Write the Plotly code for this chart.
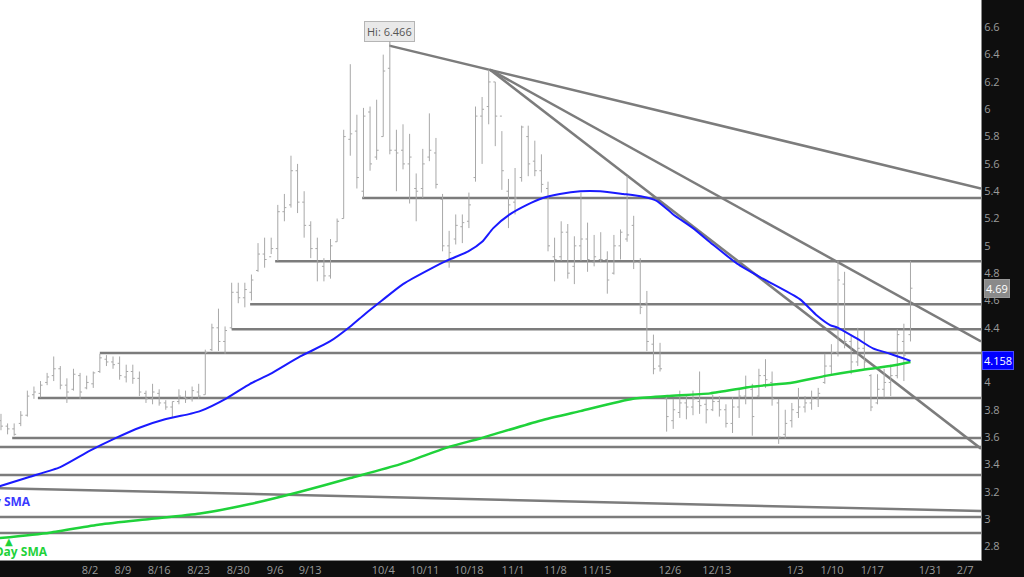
import plotly.graph_objects as go

# ---------------- data ----------------
bar_open = [3.72, 3.68, 3.66, 3.70, 3.76, 3.91, 3.92, 4.00, 4.05, 4.10,
            3.98, 3.95, 4.05, 3.96, 3.99, 4.08, 4.17, 4.15, 4.14, 4.04,
            4.08, 4.03, 3.92, 3.88, 3.92, 3.85, 3.82, 3.86, 3.89, 3.88,
            3.93, 3.91, 4.24, 4.40, 4.30, 4.40, 4.66, 4.62, 4.66, 4.82,
            4.94, 4.92, 4.98, 5.25, 5.30, 5.55, 5.32, 5.15, 4.98, 4.85,
            4.78, 5.03, 5.20, 5.78, 5.84, 5.40, 5.98, 5.65, 5.80, 6.30,
            5.70, 5.70, 5.60, 5.42, 5.42, 5.65, 5.68, 5.34, 5.00, 5.05,
            5.14, 5.18, 5.50, 5.95, 6.02, 6.20, 5.95, 5.40, 5.32, 5.50,
            5.80, 5.62, 5.55, 5.42, 4.92, 4.92, 5.10, 4.85, 5.00, 5.05,
            4.88, 4.90, 4.90, 4.80, 5.00, 5.05, 5.15, 4.88, 4.58, 4.28,
            4.12, 3.88, 3.72, 3.78, 3.85, 3.82, 3.86, 3.84, 3.80, 3.86,
            3.80, 3.70, 3.82, 3.90, 3.95, 3.90, 4.05, 4.00, 3.85, 3.62,
            3.72, 3.78, 3.82, 3.85, 3.88, 4.00, 4.12, 4.22, 4.72, 4.30,
            4.15, 4.25, 4.05, 3.85, 3.95, 4.00, 4.05, 4.30, 4.35]
bar_high = [3.77, 3.70, 3.70, 3.79, 3.94, 3.97, 4.01, 4.07, 4.19, 4.12,
            4.03, 4.10, 4.07, 4.05, 4.08, 4.21, 4.20, 4.19, 4.19, 4.13,
            4.13, 4.08, 3.94, 3.99, 3.95, 3.87, 3.86, 3.95, 3.94, 3.97,
            3.99, 4.24, 4.43, 4.54, 4.41, 4.73, 4.73, 4.73, 4.79, 5.02,
            5.06, 5.06, 5.30, 5.38, 5.66, 5.60, 5.40, 5.18, 5.06, 4.91,
            5.05, 5.20, 5.85, 6.33, 5.96, 6.01, 6.02, 6.07, 6.40, 6.466,
            5.85, 5.89, 5.82, 5.53, 5.71, 5.97, 5.79, 5.38, 5.11, 5.23,
            5.23, 5.39, 6.02, 6.09, 6.29, 6.20, 5.84, 5.49, 5.57, 5.88,
            5.88, 5.77, 5.67, 5.47, 5.06, 5.18, 5.16, 5.07, 5.39, 5.17,
            5.08, 5.10, 4.96, 5.08, 5.12, 5.51, 5.22, 4.91, 4.67, 4.35,
            4.29, 3.90, 3.88, 3.94, 3.90, 3.94, 4.08, 3.88, 3.91, 3.90,
            3.84, 3.89, 3.95, 4.05, 3.99, 4.10, 4.17, 4.08, 3.88, 3.80,
            3.85, 3.96, 3.90, 3.94, 3.96, 4.21, 4.28, 4.89, 4.81, 4.35,
            4.40, 4.38, 4.06, 4.06, 4.10, 4.13, 4.39, 4.43, 4.89]
bar_low = [3.65, 3.62, 3.61, 3.68, 3.75, 3.88, 3.89, 3.98, 4.01, 3.95,
           3.85, 3.94, 3.88, 3.95, 3.96, 4.07, 4.12, 4.10, 4.02, 4.00,
           3.99, 3.90, 3.85, 3.84, 3.83, 3.80, 3.74, 3.84, 3.85, 3.86,
           3.88, 3.91, 4.23, 4.23, 4.21, 4.39, 4.58, 4.55, 4.60, 4.81,
           4.84, 4.94, 4.89, 5.18, 5.28, 5.24, 5.06, 4.91, 4.74, 4.74,
           4.76, 5.03, 5.20, 5.66, 5.42, 5.35, 5.55, 5.63, 5.80, 5.67,
           5.40, 5.56, 5.31, 5.18, 5.35, 5.62, 5.42, 4.96, 4.84, 5.01,
           5.02, 5.13, 5.47, 5.60, 5.89, 5.73, 5.41, 5.13, 5.23, 5.47,
           5.51, 5.51, 5.39, 4.96, 4.74, 4.89, 4.76, 4.72, 4.89, 4.81,
           4.85, 4.88, 4.65, 4.79, 4.90, 5.03, 4.83, 4.50, 4.23, 4.06,
           4.08, 3.64, 3.66, 3.74, 3.73, 3.76, 3.77, 3.70, 3.79, 3.75,
           3.67, 3.63, 3.74, 3.84, 3.61, 3.89, 3.96, 3.83, 3.55, 3.59,
           3.67, 3.74, 3.78, 3.80, 3.82, 3.99, 4.06, 4.19, 4.25, 4.06,
           4.12, 4.10, 3.79, 3.84, 3.89, 3.90, 4.03, 4.01, 4.30]
bar_close = [3.68, 3.66, 3.62, 3.76, 3.90, 3.93, 3.98, 4.04, 4.10, 3.98,
             3.93, 4.06, 3.93, 4.00, 4.07, 4.18, 4.15, 4.13, 4.05, 4.08,
             4.03, 3.93, 3.88, 3.93, 3.85, 3.82, 3.86, 3.90, 3.88, 3.94,
             3.90, 4.22, 4.40, 4.30, 4.38, 4.66, 4.62, 4.68, 4.75, 4.94,
             4.90, 4.98, 5.25, 5.28, 5.55, 5.32, 5.15, 4.98, 4.88, 4.78,
             5.00, 5.18, 5.80, 5.82, 5.50, 5.95, 5.60, 5.70, 6.28, 5.70,
             5.68, 5.60, 5.65, 5.40, 5.60, 5.70, 5.45, 5.00, 4.95, 5.15,
             5.17, 5.30, 5.95, 6.00, 6.20, 5.95, 5.55, 5.30, 5.35, 5.87,
             5.60, 5.55, 5.45, 5.00, 4.90, 5.10, 4.80, 5.00, 5.05, 4.90,
             4.92, 4.90, 4.75, 5.00, 5.10, 5.08, 4.88, 4.55, 4.30, 4.10,
             4.10, 3.75, 3.80, 3.85, 3.82, 3.88, 3.83, 3.80, 3.86, 3.80,
             3.70, 3.82, 3.90, 3.97, 3.75, 4.05, 4.02, 3.88, 3.60, 3.70,
             3.80, 3.82, 3.85, 3.88, 3.92, 4.12, 4.22, 4.75, 4.30, 4.15,
             4.25, 4.15, 3.82, 3.95, 4.00, 4.05, 4.35, 4.20, 4.69]
bar_index = list(range(len(bar_close)))

tick_pos = [13.5, 18.5, 24.0, 30.0, 36.0, 41.6, 46.9, 58.0, 64.3, 71.0,
            77.7, 84.1, 90.4, 101.5, 108.6, 120.5, 126.1, 132.2, 141.0, 146.3]
tick_text = ["8/2", "8/9", "8/16", "8/23", "8/30", "9/6", "9/13", "10/4", "10/11", "10/18",
             "11/1", "11/8", "11/15", "12/6", "12/13", "1/3", "1/10", "1/17", "1/31", "2/7"]

sma50_idx = [-0.2, 4.4, 9.0, 13.5, 17.3, 21.1, 24.9, 28.7, 30.2, 34.3, 37.8, 40.8,
             45.4, 49.9, 53.0, 55.2, 57.8, 61.0, 65.1, 67.8, 70.9, 73.0, 74.7,
             77.2, 79.8, 82.2, 84.8, 87.9, 90.9, 94.4, 97.4, 99.5, 102.0, 105.0,
             108.0, 111.7, 115.6, 121.2, 123.8, 125.8, 127.0, 129.9, 132.3, 134.9, 138.0]
sma50_val = [3.24, 3.31, 3.38, 3.50, 3.59, 3.67, 3.73, 3.77, 3.79, 3.886, 3.99, 4.06,
             4.19, 4.30, 4.41, 4.50, 4.60, 4.72, 4.83, 4.895, 4.96, 5.03, 5.13,
             5.23, 5.30, 5.35, 5.38, 5.40, 5.40, 5.38, 5.36, 5.33, 5.23, 5.13,
             5.01, 4.87, 4.76, 4.61, 4.49, 4.42, 4.40, 4.32, 4.25, 4.21, 4.158]

sma200_idx = [-0.2, 7.4, 15.0, 22.6, 30.2, 37.8, 45.4, 53.0, 60.5, 68.1, 72.7,
              81.8, 87.9, 95.9, 101.1, 107.6, 114.1, 120.2, 125.3, 130.3, 134.9, 138.0]
sma200_val = [2.86, 2.90, 2.96, 3.00, 3.04, 3.11, 3.20, 3.30, 3.40, 3.53, 3.59,
              3.72, 3.79, 3.88, 3.90, 3.92, 3.97, 4.00, 4.05, 4.09, 4.12, 4.15]

level_price = [5.35, 4.888, 4.573, 4.39, 4.215, 3.886, 3.593, 3.527, 3.322, 3.015, 2.898]
level_start = [54.8, 41.6, 37.8, 35.0, 15.0, 5.6, 1.7, -1.0, -1.0, -1.0, -1.0]

trend_x0 = [58.9, 74.2, 74.2, -1.0]
trend_y0 = [6.466, 6.29, 6.29, 3.227]
trend_x1 = [148.7, 148.7, 148.7, 148.7]
trend_y1 = [5.42, 4.30, 3.515, 3.059]

last_price = 4.69
sma50_last = 4.158
high_price = 6.466
high_idx = 59

# ---------------- figure ----------------
X_RANGE = [-0.15, 148.7]
Y_RANGE = [2.70, 6.80]
GRAY = "#7c7c7c"

fig = go.Figure()

fig.add_trace(go.Ohlc(
    x=bar_index, open=bar_open, high=bar_high, low=bar_low, close=bar_close,
    increasing=dict(line=dict(color="#a8a8a8", width=1)),
    decreasing=dict(line=dict(color="#a8a8a8", width=1)),
    tickwidth=0.3, hoverinfo="skip", showlegend=False,
))

fig.add_trace(go.Scatter(x=sma200_idx, y=sma200_val, mode="lines",
                         line=dict(color="#1fd23a", width=2.5, shape="spline", smoothing=0.6),
                         hoverinfo="skip", showlegend=False))
fig.add_trace(go.Scatter(x=sma50_idx, y=sma50_val, mode="lines",
                         line=dict(color="#1a1aff", width=2, shape="spline", smoothing=0.6),
                         hoverinfo="skip", showlegend=False))

shapes = []
for p, s in zip(level_price, level_start):
    shapes.append(dict(type="line", xref="x", yref="y", x0=s, x1=X_RANGE[1], y0=p, y1=p,
                       line=dict(color=GRAY, width=2.5), layer="below"))
for x0, y0, x1, y1 in zip(trend_x0, trend_y0, trend_x1, trend_y1):
    shapes.append(dict(type="line", xref="x", yref="y", x0=x0, x1=x1, y0=y0, y1=y1,
                       line=dict(color=GRAY, width=2.5), layer="below"))

annotations = [
    dict(x=high_idx, y=high_price, xref="x", yref="y", text="Hi: 6.466",
         showarrow=True, arrowhead=0, arrowwidth=1, arrowcolor="#999999", ax=0, ay=-14,
         bgcolor="#e9e9e9", bordercolor="#b5b5b5", borderwidth=1, borderpad=2,
         font=dict(family="Open Sans", size=11, color="#555555")),
    dict(x=1, xref="paper", y=last_price, yref="y", xanchor="left", yanchor="middle",
         xshift=3, text="4.69", showarrow=False, bgcolor="#8a8a8a",
         bordercolor="#9a9a9a", borderwidth=1, borderpad=1,
         font=dict(family="Open Sans", size=11, color="#ffffff")),
    dict(x=1, xref="paper", y=sma50_last, yref="y", xanchor="left", yanchor="middle",
         xshift=1, text="4.158", showarrow=False, bgcolor="#0000ff",
         bordercolor="#4a4aff", borderwidth=1, borderpad=1,
         font=dict(family="Open Sans", size=11, color="#ffffff")),
    dict(x=4.9, xref="x", y=3.13, yref="y", xanchor="right", yanchor="middle",
         text="<b>50 Day SMA</b>", showarrow=False,
         font=dict(family="Open Sans", size=12, color="#3a3aff")),
    dict(x=7.4, xref="x", y=2.76, yref="y", xanchor="right", yanchor="middle",
         text="<b>200 Day SMA</b>", showarrow=False,
         font=dict(family="Open Sans", size=12, color="#1fd23a")),
    dict(x=1.2, xref="x", y=2.835, yref="y", xanchor="center", yanchor="middle",
         text="▲", showarrow=False,
         font=dict(family="DejaVu Sans", size=10, color="#1fd23a")),
]

fig.update_layout(
    width=1024, height=577,
    margin=dict(l=0, r=43, t=0, b=17),
    paper_bgcolor="#0e0e0e", plot_bgcolor="#ffffff",
    shapes=shapes, annotations=annotations,
    showlegend=False, hovermode=False,
    xaxis=dict(range=X_RANGE, tickmode="array", tickvals=tick_pos, ticktext=tick_text,
               showgrid=False, zeroline=False, rangeslider=dict(visible=False),
               showline=True, linecolor="#8a8a8a", linewidth=1, ticks="",
               tickfont=dict(family="Open Sans", size=11, color="#9a9a9a")),
    yaxis=dict(range=Y_RANGE, side="right", dtick=0.2, tick0=2.8,
               showgrid=False, zeroline=False, showline=True, linecolor="#8a8a8a",
               linewidth=1, ticks="",
               tickfont=dict(family="Open Sans", size=11, color="#9a9a9a")),
)

fig.write_html(
    "out.html",
    config={"displayModeBar": False, "staticPlot": True},
    post_script="document.body.style.margin='0';document.body.style.padding='0';"
                "document.body.style.overflow='hidden';"
                "document.body.style.background='#0e0e0e';",
)
